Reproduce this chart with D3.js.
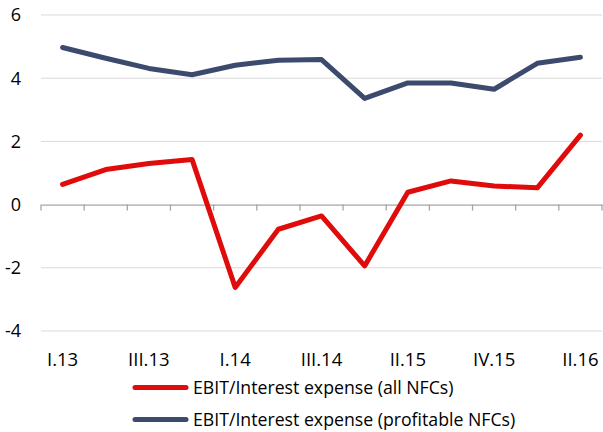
<!DOCTYPE html>
<html>
<head>
<meta charset="utf-8">
<script src="https://cdn.jsdelivr.net/npm/d3@7"></script>
<style>
  body { margin: 0; background: #fff; }
  svg { display: block; font-family: "Open Sans", "Noto Sans", sans-serif; }
</style>
</head>
<body>
<div id="chart"></div>
<script>
const quarters = ['I.13', 'II.13', 'III.13', 'IV.13', 'I.14', 'II.14', 'III.14',
    'IV.14', 'II.15', 'III.15', 'IV.15', 'I.16', 'II.16'];
const allNfcs = [0.64, 1.11, 1.30, 1.43, -2.62, -0.78, -0.36, -1.94, 0.39, 0.75, 0.59, 0.53, 2.20];
const profitableNfcs = [4.97, 4.63, 4.31, 4.11, 4.41, 4.57, 4.59, 3.36, 3.85, 3.85, 3.65, 4.47, 4.66];
const yTicks = [-4, -2, 0, 2, 4, 6];
const seriesNames = ['EBIT/Interest expense (all NFCs)', 'EBIT/Interest expense (profitable NFCs)'];

const W = 603, H = 432;
const RED = '#e00b0b', BLUE = '#3c4a6d';

const svg = d3.select('#chart').append('svg')
    .attr('width', W)
    .attr('height', H);

const x = d3.scaleBand().domain(quarters).range([41, 602]);
const y = d3.scaleLinear().domain([-4, 6]).range([331, 15]);

// gridlines
svg.append('g')
    .selectAll('line')
    .data(yTicks.filter(d => d !== 0))
    .enter()
    .append('line')
    .attr('x1', 41).attr('x2', 602)
    .attr('y1', d => y(d)).attr('y2', d => y(d))
    .attr('stroke', '#d9d9d9')
    .attr('stroke-width', 1);

// y labels
svg.append('g')
    .selectAll('text')
    .data(yTicks)
    .enter()
    .append('text')
    .attr('x', 21)
    .attr('y', d => y(d))
    .attr('dy', '0.35em')
    .attr('text-anchor', 'end')
    .attr('font-size', 18)
    .attr('fill', '#000')
    .text(d => d);

// zero axis with ticks at band edges
const xAxis = d3.axisBottom(x).tickSize(0).tickFormat('');
const axisG = svg.append('g')
    .attr('transform', `translate(0,${y(0)})`)
    .call(xAxis);
axisG.select('.domain').attr('stroke', '#a6a6a6').attr('stroke-width', 1.3);

const edges = quarters.map(q => x(q)).concat([x.range()[1]]);
axisG.selectAll('line.edge')
    .data(edges)
    .enter()
    .append('line')
    .attr('class', 'edge')
    .attr('x1', d => d).attr('x2', d => d)
    .attr('y1', 0).attr('y2', 6)
    .attr('stroke', '#a6a6a6')
    .attr('stroke-width', 1.3);

// x labels (every other)
svg.append('g')
    .selectAll('text')
    .data(quarters.filter((d, i) => i % 2 === 0))
    .enter()
    .append('text')
    .attr('x', d => x(d) + x.bandwidth() / 2)
    .attr('y', 365.5)
    .attr('text-anchor', 'middle')
    .attr('font-size', 18.5)
    .attr('fill', '#000')
    .text(d => d);

// lines
const line = d3.line()
    .x((d, i) => x(quarters[i]) + x.bandwidth() / 2)
    .y(d => y(d));

[[profitableNfcs, BLUE], [allNfcs, RED]].forEach(([vals, col]) => {
    svg.append('path')
        .datum(vals)
        .attr('d', line)
        .attr('fill', 'none')
        .attr('stroke', col)
        .attr('stroke-width', 5)
        .attr('stroke-linejoin', 'round')
        .attr('stroke-linecap', 'round');
});

// legend
const legend = svg.append('g')
    .selectAll('g')
    .data([[seriesNames[0], RED], [seriesNames[1], BLUE]])
    .enter()
    .append('g')
    .attr('transform', (d, i) => `translate(0,${387.5 + i * 32})`);

legend.append('line')
    .attr('x1', 135).attr('x2', 186)
    .attr('y1', 0).attr('y2', 0)
    .attr('stroke', d => d[1])
    .attr('stroke-width', 5)
    .attr('stroke-linecap', 'round');

legend.append('text')
    .attr('x', 193)
    .attr('y', 0)
    .attr('dy', '0.35em')
    .attr('font-size', 17.7)
    .attr('fill', '#000')
    .text(d => d[0]);
</script>
</body>
</html>
